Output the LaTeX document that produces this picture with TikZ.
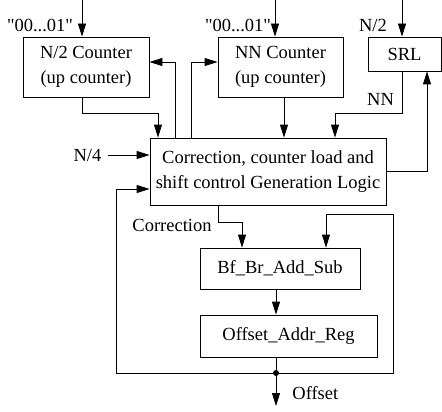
\documentclass[tikz,border=0pt]{standalone}
\usepackage{fontspec}
\setmainfont{Liberation Serif}
\usetikzlibrary{arrows.meta}
\begin{document}
\begin{tikzpicture}[x=1pt,y=-1pt,line width=0.8pt,
	blk/.style={draw,align=center,inner sep=0pt,font=\fontsize{18.5}{25}\selectfont},
	lbl/.style={inner sep=0pt,font=\fontsize{18.5}{22}\selectfont},
	arr/.style={-{Triangle[length=13pt,width=8pt]}}]
	\useasboundingbox (0,0) rectangle (442,412);

	\node[blk,minimum width=126pt,minimum height=60pt] (n2c) at (86,67) {N/2 Counter\\(up counter)};
	\node[blk,minimum width=125pt,minimum height=60pt] (nnc) at (280.5,67) {NN Counter\\(up counter)};
	\node[blk,minimum width=73pt,minimum height=34pt] (srl) at (404.5,54) {SRL};
	\node[blk,minimum width=236pt,minimum height=67pt] (ctrl) at (268,171.5) {Correction, counter load and\\shift control Generation Logic};
	\node[blk,minimum width=160pt,minimum height=41pt] (add) at (280,268.5) {Bf\_Br\_Add\_Sub};
	\node[blk,minimum width=177pt,minimum height=42pt] (reg) at (288.5,336) {Offset\_Addr\_Reg};

	\node[lbl] (l1) at (40,25) {\textquotedbl 00...01\textquotedbl};
	\node[lbl] (l2) at (238,25) {\textquotedbl 00...01\textquotedbl};
	\node[lbl] (l3) at (373,25) {N/2};
	\node[lbl] (l4) at (87.5,155) {N/4};
	\node[lbl] (l5) at (380.5,99) {NN};
	\node[lbl] (l6) at (172,225) {Correction};
	\node[lbl,anchor=west] (l7) at (292,393) {Offset};

	\coordinate (s1) at (82,0);
	\coordinate (s2) at (275,0);
	\coordinate (s3) at (402,0);
	\coordinate (k1) at (158,113);
	\coordinate (k2) at (175,62);
	\coordinate (k3) at (191,62);
	\coordinate (k4) at (284,0);
	\coordinate (k5) at (335,113);
	\coordinate (k6) at (427,0);
	\coordinate (k7) at (218,222);
	\coordinate (k8) at (242,222);
	\coordinate (dot) at (276,373);
	\coordinate (out) at (276,406);
	\coordinate (k10) at (116,189);
	\coordinate (k11) at (393,214);
	\coordinate (k12) at (326,214);

	\draw[arr] (s1) -- (s1 |- n2c.north);
	\draw[arr] (s2) -- (s2 |- nnc.north);
	\draw[arr] (s3) -- (s3 |- srl.north);
	\draw[arr] (n2c.south -| s1) |- (k1) -- (k1 |- ctrl.north);
	\draw[arr] (k2 |- ctrl.north) -- (k2) -- (k2 -| n2c.east);
	\draw[arr] (k3 |- ctrl.north) -- (k3) -- (k3 -| nnc.west);
	\draw[arr] (nnc.south -| k4) -- (k4 |- ctrl.north);
	\draw[arr] (srl.south -| s3) |- (k5) -- (k5 |- ctrl.north);
	\draw[arr] (ctrl.east) -| (k6 |- srl.south);
	\draw[arr] ([xshift=6pt]l4.east) -- (l4.east -| ctrl.west);
	\draw[arr] (ctrl.south -| k7) -- (k7) -- (k8) -- (k8 |- add.north);
	\draw[arr] (add.south -| dot) -- (dot |- reg.north);
	\draw (reg.south -| dot) -- (dot);
	\draw[arr] (dot) -- (out);
	\draw[arr] (dot) -| (k10) -- (k10 -| ctrl.west);
	\draw[arr] (dot) -| (k11) -- (k12) -- (k12 |- add.north);
	\fill (dot) circle (3pt);
\end{tikzpicture}
\end{document}
